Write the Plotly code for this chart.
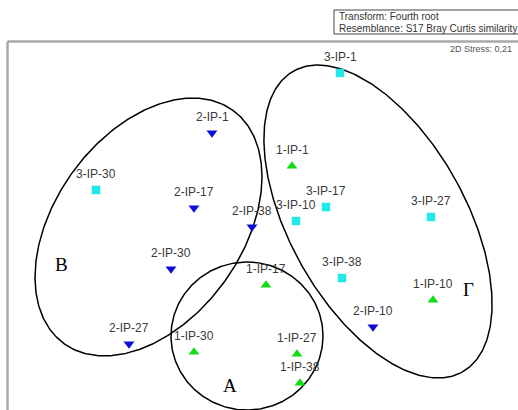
import numpy as np
import plotly.graph_objects as go

# nMDS ordination coordinates of the samples (fourth-root transform, Bray-Curtis)
group1_labels = ["1-IP-1", "1-IP-10", "1-IP-17", "1-IP-27", "1-IP-30", "1-IP-38"]
group1_x = [0.32, 1.73, 0.06, 0.37, -0.66, 0.40]
group1_y = [0.64, -0.70, -0.55, -1.24, -1.22, -1.53]

group2_labels = ["2-IP-1", "2-IP-10", "2-IP-17", "2-IP-27", "2-IP-30", "2-IP-38"]
group2_x = [-0.48, 1.13, -0.66, -1.31, -0.89, -0.08]
group2_y = [0.97, -0.97, 0.22, -1.14, -0.39, 0.03]

group3_labels = ["3-IP-1", "3-IP-10", "3-IP-17", "3-IP-27", "3-IP-30", "3-IP-38"]
group3_x = [0.80, 0.36, 0.66, 1.71, -1.64, 0.82]
group3_y = [1.57, 0.09, 0.23, 0.13, 0.40, -0.48]

# Cluster outlines: name, centre x, centre y, semi-axis a, semi-axis b, rotation (deg)
cluster_names = ["A", "B", "Γ"]
cluster_cx = [-0.13, -1.115, 1.18]
cluster_cy = [-1.06, 0.03, 0.085]
cluster_a = [0.76, 1.44, 1.725]
cluster_b = [0.74, 0.936, 0.88]
cluster_rot = [0.0, 54.1, -60.7]
cluster_label_x = [-0.30, -1.99, 2.08]
cluster_label_y = [-1.55, -0.34, -0.59]

stress_text = "2D Stress: 0,21"
info_lines = ["Transform: Fourth root", "Resemblance: S17 Bray Curtis similarity"]

W, H = 518, 410
X_RANGE = [-2.60, 2.58]
Y_RANGE = [-1.80, 2.30]


def px(xp, yp):
    """Pixel position -> paper coordinates."""
    return xp / W, 1 - yp / H


fig = go.Figure()

# ellipses around the groups
t = np.linspace(0, 2 * np.pi, 400)
for cx, cy, a, b, rot in zip(cluster_cx, cluster_cy, cluster_a, cluster_b, cluster_rot):
    th = np.deg2rad(rot)
    ex = cx + a * np.cos(t) * np.cos(th) - b * np.sin(t) * np.sin(th)
    ey = cy + a * np.cos(t) * np.sin(th) + b * np.sin(t) * np.cos(th)
    fig.add_trace(go.Scatter(x=ex, y=ey, mode="lines",
                             line=dict(color="black", width=1.5),
                             hoverinfo="skip", showlegend=False))

series = [
    (group1_labels, group1_x, group1_y, "triangle-up", "#12dc12", 9.5),
    (group2_labels, group2_x, group2_y, "triangle-down", "#0c0cd6", 9.5),
    (group3_labels, group3_x, group3_y, "square", "#22e8e8", 8.5),
]

annotations = []
for labels, xs, ys, sym, col, size in series:
    fig.add_trace(go.Scatter(x=xs, y=ys, mode="markers", text=labels,
                             marker=dict(symbol=sym, color=col, size=size,
                                         line=dict(width=0)),
                             showlegend=False))
    for lab, x, y in zip(labels, xs, ys):
        annotations.append(dict(x=x, y=y, text=lab, showarrow=False,
                                xanchor="center", yanchor="middle", yshift=16,
                                font=dict(family="Liberation Sans, Arial", size=12,
                                          color="#3a3a3a")))

for name, x, y in zip(cluster_names, cluster_label_x, cluster_label_y):
    annotations.append(dict(x=x, y=y, text=name, showarrow=False,
                            xanchor="center", yanchor="middle",
                            font=dict(family="Liberation Serif, Times New Roman",
                                      size=19, color="black")))

# stress value
sx, sy = px(514, 49)
annotations.append(dict(x=sx, y=sy, xref="paper", yref="paper", text=stress_text,
                        showarrow=False, xanchor="right", yanchor="middle",
                        font=dict(family="Liberation Sans, Arial", size=9, color="#555555")))

# info box text
for i, line in enumerate(info_lines):
    lx, ly = px(337, 16 + 13 * i)
    annotations.append(dict(x=lx, y=ly, xref="paper", yref="paper", text=line,
                            showarrow=False, xanchor="left", yanchor="middle",
                            font=dict(family="Liberation Sans, Arial", size=10,
                                      color="#333333")))

shapes = []
# info box
bx0, by0 = px(334, 10)
bx1, by1 = px(530, 34)
shapes.append(dict(type="rect", xref="paper", yref="paper",
                   x0=bx0, y0=by1, x1=bx1, y1=by0,
                   line=dict(color="#444444", width=1), fillcolor="white"))
# plot frame (top and left edges)
fx0, fy0 = px(7.5, 41.5)
fx1, _ = px(520, 41.5)
_, fy1 = px(7.5, 412)
shapes.append(dict(type="line", xref="paper", yref="paper",
                   x0=fx0, y0=fy0, x1=fx1, y1=fy0,
                   line=dict(color="#a8a8a8", width=2.5)))
shapes.append(dict(type="line", xref="paper", yref="paper",
                   x0=fx0, y0=fy0, x1=fx0, y1=fy1,
                   line=dict(color="#a8a8a8", width=2.5)))

fig.update_layout(
    width=W, height=H,
    margin=dict(l=0, r=0, t=0, b=0),
    paper_bgcolor="white", plot_bgcolor="white",
    xaxis=dict(range=X_RANGE, visible=False, fixedrange=True),
    yaxis=dict(range=Y_RANGE, visible=False, fixedrange=True),
    annotations=annotations, shapes=shapes,
    showlegend=False,
)

fig.write_html("out.html")
